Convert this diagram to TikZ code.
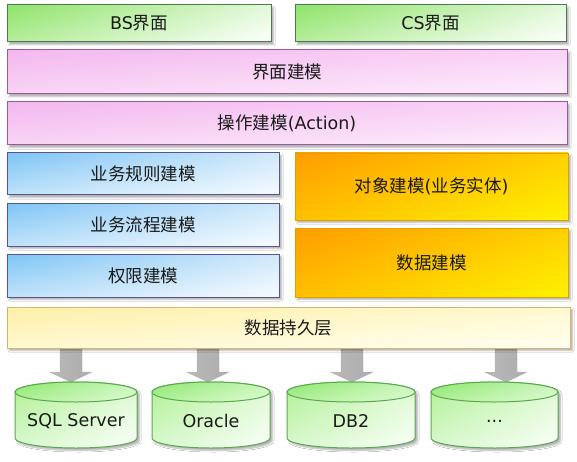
\documentclass[tikz,border=0pt]{standalone}
\usepackage{fontspec}
\setmainfont{DejaVu Sans}
\newfontfamily\cjk{Noto Sans CJK SC}
\usetikzlibrary{shadows.blur,calc,shadings}
\definecolor{txt}{HTML}{1A1A1A}
\definecolor{gB}{HTML}{4D7A4D}
\definecolor{pB}{HTML}{9A5A9A}
\definecolor{bB}{HTML}{55558F}
\definecolor{oB}{HTML}{E0A000}
\definecolor{yB}{HTML}{D9B46A}
\definecolor{cB}{HTML}{5AA850}
\definecolor{gUL}{HTML}{8FE36A}\definecolor{gUR}{HTML}{E2F8D8}\definecolor{gLL}{HTML}{B5EE9B}\definecolor{gLR}{HTML}{FFFFFF}
\definecolor{pUL}{HTML}{F3B8EE}\definecolor{pUR}{HTML}{F9D2F6}\definecolor{pLL}{HTML}{F8D4F5}\definecolor{pLR}{HTML}{FDEEFC}
\definecolor{bUL}{HTML}{7EC5F4}\definecolor{bUR}{HTML}{CFE8FB}\definecolor{bLL}{HTML}{C0E2FA}\definecolor{bLR}{HTML}{F7FBFF}
\definecolor{oUL}{HTML}{FF9C00}\definecolor{oUR}{HTML}{FFD000}\definecolor{oLL}{HTML}{FFC000}\definecolor{oLR}{HTML}{FFF200}
\definecolor{yUL}{HTML}{FFF0A8}\definecolor{yUR}{HTML}{FFF8D0}\definecolor{yLL}{HTML}{FFF8D0}\definecolor{yLR}{HTML}{FFFFF0}
\definecolor{cUL}{HTML}{B0F090}\definecolor{cUR}{HTML}{DDF9D2}\definecolor{cLL}{HTML}{D8F8D0}\definecolor{cLR}{HTML}{FAFFF8}
\definecolor{tUL}{HTML}{8EE870}\definecolor{tUR}{HTML}{C8F6B8}\definecolor{tLL}{HTML}{B0F09A}\definecolor{tLR}{HTML}{E0FBD6}
\tikzset{
  softshadow/.style={blur shadow={shadow xshift=2.5pt, shadow yshift=-2.5pt, shadow opacity=30, shadow blur steps=6, shadow blur radius=1.5pt}},
  box/.style={rectangle, draw, inner sep=0pt, line width=1pt, text=txt, softshadow},
  gbox/.style={box, draw=gB, upper left=gUL, upper right=gUR, lower left=gLL, lower right=gLR},
  pbox/.style={box, draw=pB, upper left=pUL, upper right=pUR, lower left=pLL, lower right=pLR},
  bbox/.style={box, draw=bB, upper left=bUL, upper right=bUR, lower left=bLL, lower right=bLR},
  obox/.style={box, draw=oB, line width=0.6pt, upper left=oUL, upper right=oUR, lower left=oLL, lower right=oLR},
  ybox/.style={box, draw=yB, upper left=yUL, upper right=yUR, lower left=yLL, lower right=yLR},
  blockarrow/.style={draw=gray!60, line width=0.4pt, left color=gray!55, middle color=gray!8, right color=gray!65},
  cylbody/.style={draw=cB, line width=1pt, upper left=cUL, upper right=cUR, lower left=cLL, lower right=cLR, softshadow},
  cyltop/.style={draw=cB, line width=1pt, upper left=tUL, upper right=tUR, lower left=tLL, lower right=tLR},
  dbtext/.style={text=txt, inner sep=0pt}
}
\newcommand{\dbcyl}[2]{%
  \path[cylbody] ({#1-#2},392) -- ({#1-#2},438) arc[start angle=180, end angle=360, x radius=#2 pt, y radius=10pt]
    -- ({#1+#2},392) arc[start angle=0, end angle=180, x radius=#2 pt, y radius=10pt] -- cycle;
  \path[cyltop] (#1,392) ellipse [x radius=#2 pt, y radius=10pt];
}
\newcommand{\blkarrow}[1]{%
  \path[blockarrow] (persist.south -| #1) ++(-11,-2) -- ++(0,26) -- ++(-10,0) -- (#1) -- ++(21,-10) -- ++(-10,0) -- ++(0,-26) -- cycle;
}
\begin{document}
\begin{tikzpicture}[x=1pt, y=-1pt, font=\fontsize{17.5}{20}\selectfont]
\useasboundingbox[fill=white] (0,0) rectangle (577,462);
\node[gbox, minimum width=264pt, minimum height=37pt] (bs) at (139,23.5) {BS{\cjk 界面}};
\node[gbox, minimum width=271pt, minimum height=37pt] (cs) at (430.5,23.5) {CS{\cjk 界面}};
\node[pbox, minimum width=560pt, minimum height=44pt] (ui) at (287,72) {\cjk 界面建模};
\node[pbox, minimum width=560pt, minimum height=43pt] (act) at (287,123.5) {{\cjk 操作建模}(Action)};
\node[bbox, minimum width=272pt, minimum height=42pt] (rule) at (143,174) {\cjk 业务规则建模};
\node[bbox, minimum width=272pt, minimum height=43pt] (flow) at (143,224.5) {\cjk 业务流程建模};
\node[bbox, minimum width=272pt, minimum height=43pt] (perm) at (143,275.5) {\cjk 权限建模};
\node[obox, minimum width=273pt, minimum height=67pt] (obj) at (431.5,186.5) {{\cjk 对象建模}({\cjk 业务实体})};
\node[obox, minimum width=273pt, minimum height=69pt] (data) at (431.5,262.5) {\cjk 数据建模};
\coordinate (sqlT) at (71,382);
\coordinate (oraT) at (208,382);
\coordinate (dbT) at (352,382);
\coordinate (etcT) at (506,382);
\path (288.5,327.5) node[minimum width=563pt, minimum height=41pt, inner sep=0pt] (persist) {};
\blkarrow{sqlT}
\blkarrow{oraT}
\blkarrow{dbT}
\blkarrow{etcT}
\dbcyl{76}{61}
\dbcyl{211}{59}
\dbcyl{351}{64}
\dbcyl{494.5}{63.5}
\node[dbtext] (sql) at (76,421) {SQL Server};
\node[dbtext] (ora) at (211,421) {Oracle};
\node[dbtext] (db) at (351,421) {DB2};
\node[dbtext] (etc) at (494.5,421) {...};
\node[ybox, minimum width=563pt, minimum height=41pt] (persistbox) at (persist) {\cjk 数据持久层};
\end{tikzpicture}
\end{document}
